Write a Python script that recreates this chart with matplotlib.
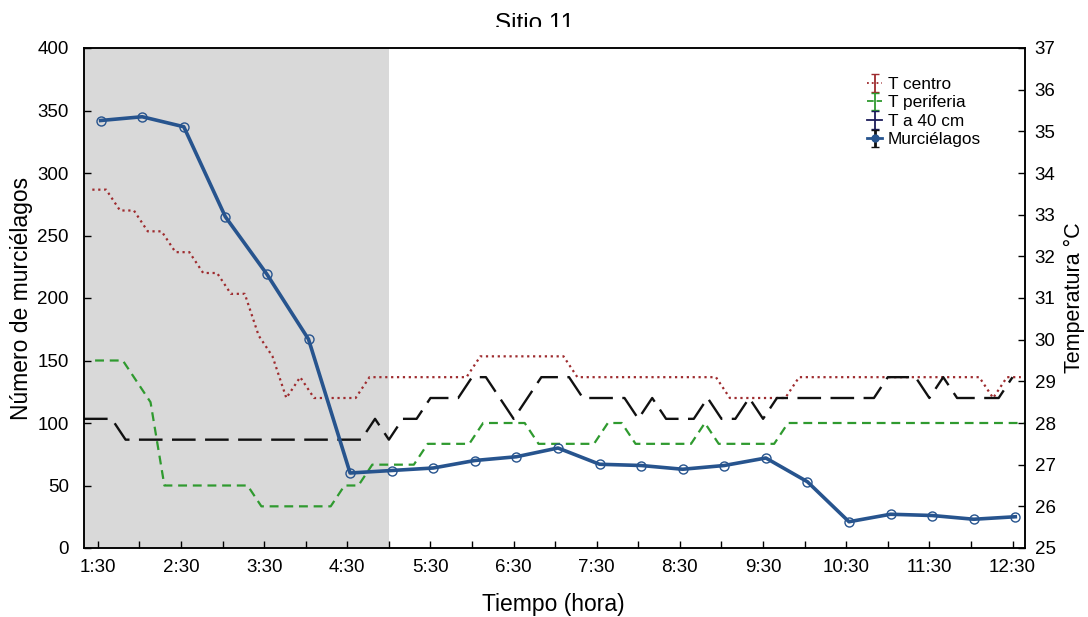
import numpy as np
import matplotlib
matplotlib.use('Agg')
import matplotlib.pyplot as plt
from matplotlib.patches import Rectangle

plt.rcParams['font.family'] = ['Liberation Sans', 'DejaVu Sans']

# bat counts every 30 min (first count at 1:32)
bat_start = 1 + 32 / 60
murcielagos = [342, 345, 337, 265, 219, 167, 60, 62, 64, 70, 73, 80,
               67, 66, 63, 66, 72, 53, 21, 27, 26, 23, 25]

# temperatures every 10 min
centro_start = 1 + 26 / 60
t_centro = ([33.6] * 2 + [33.1] * 2 + [32.6] * 2 + [32.1] * 2 + [31.6] * 2 + [31.1] * 2
            + [30.1, 29.6, 28.6, 29.1] + [28.6] * 4 + [29.1] * 8 + [29.6] * 7
            + [29.1] * 11 + [28.6] * 5 + [29.1] * 14 + [28.6] + [29.1] * 2)

periferia_start = 1 + 28 / 60
t_periferia = ([29.5] * 3 + [29.0, 28.5] + [26.5] * 7 + [26.0] * 6 + [26.5] * 2
               + [27.0] * 4 + [27.5] * 4 + [28.0] * 4 + [27.5] * 5 + [28.0] * 2
               + [27.5] * 5 + [28.0] + [27.5] * 5 + [28.0] * 18)

t40_start = 1 + 20 / 60
t_40cm = ([28.1] * 3 + [27.6] * 18
          + [28.1, 27.6, 28.1, 28.1, 28.6, 28.6, 28.6, 29.1, 29.1, 28.6, 28.1, 28.6,
             29.1, 29.1, 29.1, 28.6, 28.6, 28.6, 28.6, 28.1, 28.6, 28.1, 28.1, 28.1,
             28.6, 28.1, 28.1, 28.6, 28.1, 28.6]
          + [28.6] * 7 + [29.1, 29.1, 29.1, 28.6, 29.1] + [28.6] * 4 + [29.1])

tick_hours = [1.5 + i for i in range(12)]
tick_labels = ['%d:30' % int(h) for h in tick_hours]

t_bats = bat_start + 0.5 * np.arange(len(murcielagos))
t_c = centro_start + np.arange(len(t_centro)) / 6
t_p = periferia_start + np.arange(len(t_periferia)) / 6
t_4 = t40_start + np.arange(len(t_40cm)) / 6

fig = plt.figure(figsize=(10.88, 6.17), dpi=100)
ax2 = fig.add_axes([84 / 1088, 69 / 617, 941 / 1088, 500 / 617])
ax = ax2.twinx()
# bats on top of the temperature lines
ax.yaxis.tick_left()
ax.yaxis.set_label_position('left')
ax2.yaxis.tick_right()
ax2.yaxis.set_label_position('right')
ax.set_zorder(ax2.get_zorder() + 1)
ax.patch.set_visible(False)

x0, x1 = 1 + 20 / 60, 12 + 39 / 60
ax2.axvspan(x0, 5.0, color='#d9d9d9', lw=0, zorder=0)

blue = '#27548e'
red = '#9e2b2e'
green = '#2f9a2f'
dark = '#111111'

ax2.plot(t_c, t_centro, color=red, lw=1.6, ls=':')
ax2.plot(t_p, t_periferia, color=green, lw=1.6, ls=(0, (4, 2.6)))
ax2.plot(t_4, t_40cm, color=dark, lw=1.7, ls=(0, (10, 4)))
ax.plot(t_bats, murcielagos, color=blue, lw=2.6, marker='o', ms=6.5,
        mfc='none', mec=blue, mew=1.0)

ax.set_xlim(x0, x1)
ax.set_ylim(0, 400)
ax.set_yticks(range(0, 401, 50))
ax2.set_ylim(25, 37)
ax2.set_yticks(range(25, 38))
ax2.set_xticks(tick_hours)
ax2.set_xticklabels(tick_labels)
ax2.set_xticks([h + 0.5 for h in tick_hours[:-1]], minor=True)

for a in (ax, ax2):
    a.tick_params(which='both', direction='in', labelsize=13.5, length=5, width=1)
    for s in a.spines.values():
        s.set_linewidth(1.1)
ax.tick_params(axis='x', which='both', bottom=False, labelbottom=False)
ax.tick_params(axis='y', pad=11)
ax2.tick_params(axis='y', pad=7)
ax2.tick_params(axis='x', pad=8)

ax.set_ylabel('Número de murciélagos', fontsize=16.5)
ax.yaxis.set_label_coords((33 - 84) / 941, 0.5)
ax2.set_ylabel('Temperatura °C', fontsize=15.5)
ax2.yaxis.set_label_coords((1064 - 84) / 941, 0.5)
ax2.set_xlabel('Tiempo (hora)', fontsize=16.5)
ax2.xaxis.set_label_coords((553 - 84) / 941, (548 - 593) / 500)

# legend with errorbar-style handles
nan = [np.nan]
h1 = ax.errorbar(nan, nan, yerr=[1], fmt=':', color=red, ecolor=red, capsize=3, lw=1.3)
h2 = ax.errorbar(nan, nan, yerr=[1], fmt='--', color=green, ecolor=green, capsize=3, lw=1.3)
h3 = ax.errorbar(nan, nan, yerr=[1], fmt='-', color='#1c1c5a', ecolor='#1c1c5a', capsize=3, lw=1.3)
h4 = ax.errorbar(nan, nan, yerr=[1], fmt='-o', color=blue, ecolor=dark, capsize=3, lw=2, ms=5)
ax.legend([h1, h2, h3, h4], ['T centro', 'T periferia', 'T a 40 cm', 'Murciélagos'],
          loc='upper left', bbox_to_anchor=(860 / 1088, 1 - 70 / 617),
          bbox_transform=fig.transFigure, frameon=False, fontsize=12.4,
          handlelength=0.9, handletextpad=0.3, labelspacing=0.2, borderaxespad=0)

fig.text(535 / 1088, 1 - 30 / 617, 'Sitio 11', ha='center', va='baseline', fontsize=17.5)
# the title is cut off at its bottom in the original
fig.patches.append(Rectangle((0.3, 1 - 37 / 617), 0.4, 10 / 617, transform=fig.transFigure,
                             facecolor='white', edgecolor='none', zorder=10))

fig.savefig('out.png', dpi=100)
